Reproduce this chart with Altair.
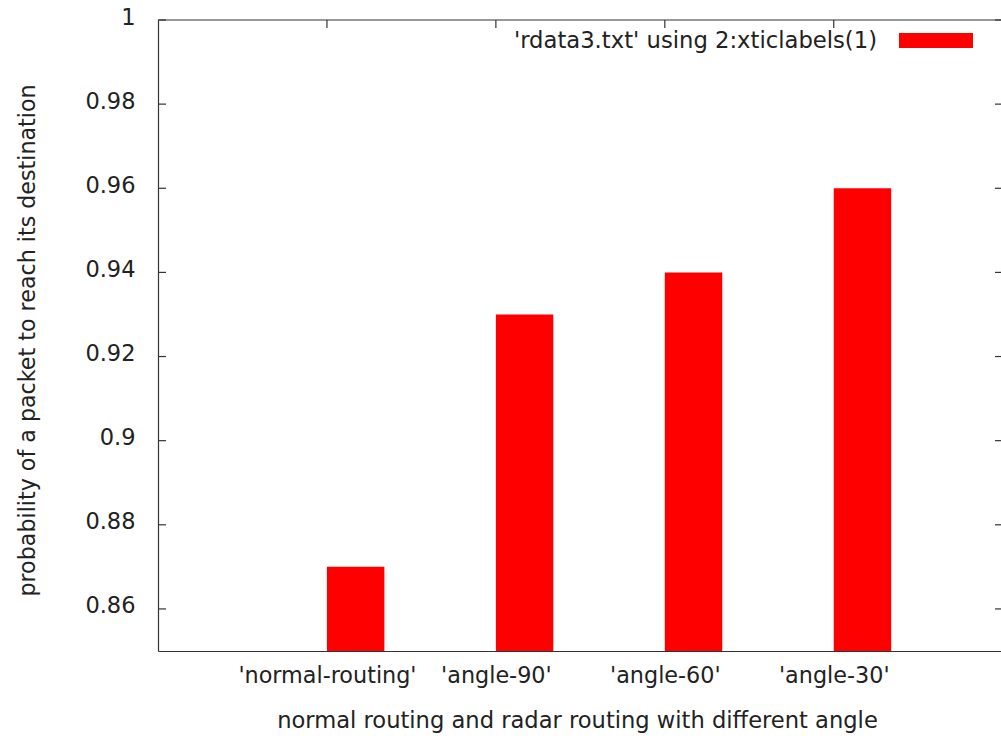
import json
import altair as alt
import pandas as pd

# ---- data ----
categories = ["'normal-routing'", "'angle-90'", "'angle-60'", "'angle-30'"]
values = [0.87, 0.93, 0.94, 0.96]
y_ticks = [0.86, 0.88, 0.90, 0.92, 0.94, 0.96, 0.98, 1.0]
legend_label = "'rdata3.txt' using 2:xticlabels(1)"
x_title = "normal routing and radar routing with different angle"
y_title = "probability of a packet to reach its destination"

# ---- layout ----
W, H = 843, 631
LEFT, TOP = 158, 20
BAR_W = 0.34
FONT = "DejaVu Sans"
TXT = "#222222"
LINE = "#333333"
RED = "#ff0000"

positions = list(range(len(categories)))
df = pd.DataFrame({"label": categories, "value": values, "pos": positions})
df["x0"] = df["pos"]
df["x1"] = df["pos"] + BAR_W

xscale = alt.Scale(domain=[-1, 3.99], nice=False, zero=False)
yscale = alt.Scale(domain=[0.85, 1.0], nice=False, zero=False)

label_expr = "[" + ",".join(json.dumps(c) for c in categories) + "][datum.value]"

x_axis = alt.Axis(
    values=positions, labelExpr=label_expr, title=x_title,
    ticks=False, tickSize=0, grid=False, domain=True, domainColor=LINE, domainWidth=1.2,
    labelFont=FONT, labelFontSize=22.3, labelColor=TXT, labelPadding=31,
    labelBaseline="alphabetic", labelAngle=0,
    titleFont=FONT, titleFontSize=22.6, titleColor=TXT, titleFontWeight="normal",
    titleX=577 - LEFT, titleY=727 - (TOP + H), titleBaseline="alphabetic", titleAlign="center",
)
y_axis = alt.Axis(
    values=y_ticks, format=".2~f", title=y_title,
    ticks=False, tickSize=0, grid=False, domain=True, domainColor=LINE, domainWidth=1.2,
    labelFont=FONT, labelFontSize=22.5, labelColor=TXT, labelPadding=23,
    labelBaseline="middle", labelOffset=-3,
    titleFont=FONT, titleFontSize=22.2, titleColor=TXT, titleFontWeight="normal",
    titleAngle=270, titleX=27 - LEFT, titleY=340 - TOP, titleBaseline="middle", titleAlign="center",
)

bars = alt.Chart(df).mark_bar(color=RED, clip=True).encode(
    x=alt.X("x0:Q", scale=xscale, axis=x_axis),
    x2="x1",
    y=alt.Y("value:Q", scale=yscale, axis=y_axis),
    y2=alt.datum(0.85),
)

ytick_df = pd.DataFrame({"v": y_ticks})
xtick_df = pd.DataFrame({"p": positions})

left_ticks = alt.Chart(ytick_df).mark_rule(color=LINE, strokeWidth=1.2).encode(
    y=alt.Y("v:Q", scale=yscale, axis=y_axis), x=alt.value(0), x2=alt.value(8))
right_ticks = alt.Chart(ytick_df).mark_rule(color=LINE, strokeWidth=1.2).encode(
    y=alt.Y("v:Q", scale=yscale, axis=y_axis), x=alt.value(W - 6), x2=alt.value(W))
top_ticks = alt.Chart(xtick_df).mark_rule(color=LINE, strokeWidth=1.2).encode(
    x=alt.X("p:Q", scale=xscale, axis=x_axis), y=alt.value(0), y2=alt.value(8))
top_border = alt.Chart(xtick_df.head(1)).mark_rule(color=LINE, strokeWidth=1.2).encode(
    x=alt.value(0), x2=alt.value(W), y=alt.value(0))

leg_df = pd.DataFrame({"t": [legend_label]})
legend_text = alt.Chart(leg_df).mark_text(
    align="right", baseline="alphabetic", font=FONT, fontSize=22.7, color=TXT
).encode(x=alt.value(877 - LEFT), y=alt.value(48 - TOP), text="t:N")
legend_swatch = alt.Chart(leg_df).mark_rect(color=RED).encode(
    x=alt.value(899 - LEFT), x2=alt.value(973 - LEFT), y=alt.value(33 - TOP), y2=alt.value(48 - TOP))

chart = alt.layer(
    bars, left_ticks, right_ticks, top_ticks, top_border, legend_text, legend_swatch
).properties(
    width=W, height=H,
    autosize=alt.AutoSizeParams(type="none"),
    padding={"left": LEFT, "top": TOP, "right": 0, "bottom": 740 - TOP - H},
    background="white",
).configure_view(stroke=None)

chart.save("out.html", embed_options={"renderer": "svg", "actions": False})
